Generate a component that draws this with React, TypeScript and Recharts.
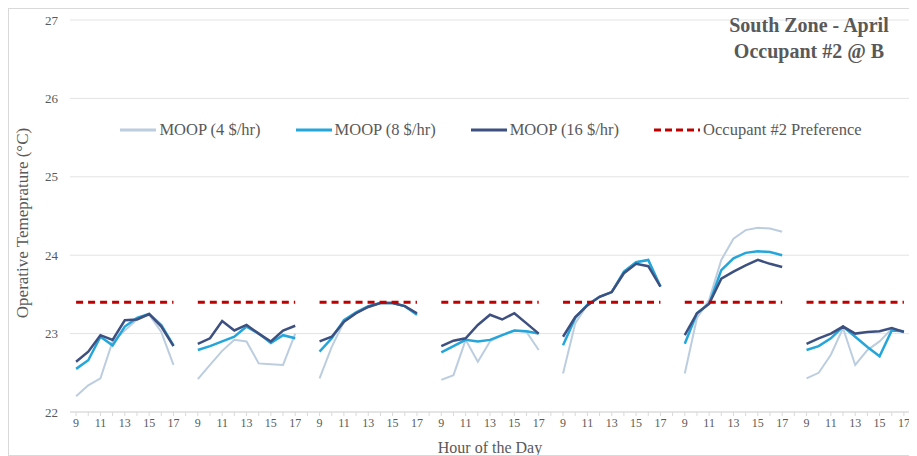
import { LineChart, Line, XAxis, YAxis, CartesianGrid } from 'recharts';

// hours shown for each simulated day
const HOURS = [9, 10, 11, 12, 13, 14, 15, 16, 17];

// operative temperature per day (°C), one inner array per day
const moop4 = [
  [22.2, 22.34, 22.43, 22.9, 23.04, 23.18, 23.24, 23.02, 22.6],
  [22.42, 22.6, 22.78, 22.92, 22.9, 22.62, 22.61, 22.6, 23.0],
  [22.43, 22.83, 23.15, 23.26, 23.34, 23.39, 23.39, 23.35, 23.24],
  [22.41, 22.47, 22.92, 22.64, 22.9, 22.98, 23.04, 23.02, 22.79],
  [22.49, 23.13, 23.37, 23.47, 23.53, 23.79, 23.91, 23.94, 23.6],
  [22.49, 23.2, 23.43, 23.94, 24.21, 24.32, 24.35, 24.34, 24.3],
  [22.43, 22.5, 22.73, 23.07, 22.6, 22.79, 22.9, 23.06, 23.03],
];

const moop8 = [
  [22.55, 22.66, 22.96, 22.85, 23.09, 23.2, 23.25, 23.11, 22.85],
  [22.79, 22.84, 22.9, 22.96, 23.09, 23.0, 22.88, 22.98, 22.94],
  [22.77, 22.94, 23.17, 23.27, 23.35, 23.39, 23.39, 23.35, 23.24],
  [22.76, 22.84, 22.92, 22.9, 22.92, 22.98, 23.04, 23.03, 23.0],
  [22.85, 23.2, 23.37, 23.47, 23.53, 23.79, 23.91, 23.94, 23.6],
  [22.87, 23.26, 23.38, 23.81, 23.96, 24.03, 24.05, 24.04, 24.0],
  [22.79, 22.84, 22.94, 23.09, 22.96, 22.83, 22.71, 23.04, 23.03],
];

const moop16 = [
  [22.64, 22.77, 22.98, 22.92, 23.17, 23.18, 23.25, 23.09, 22.84],
  [22.87, 22.94, 23.16, 23.04, 23.11, 23.0, 22.9, 23.04, 23.1],
  [22.9, 22.96, 23.15, 23.26, 23.34, 23.39, 23.39, 23.35, 23.26],
  [22.84, 22.91, 22.94, 23.11, 23.24, 23.18, 23.26, 23.13, 23.0],
  [22.96, 23.21, 23.36, 23.47, 23.53, 23.77, 23.89, 23.86, 23.6],
  [22.98, 23.26, 23.38, 23.7, 23.79, 23.87, 23.94, 23.89, 23.85],
  [22.87, 22.94, 23.0, 23.09, 23.0, 23.02, 23.03, 23.07, 23.02],
];

const PREFERENCE = 23.4;
const Y_TICKS = [22, 23, 24, 25, 26, 27];

const C4 = '#bccde0';
const C8 = '#25a6da';
const C16 = '#3d5080';
const CPREF = '#c00000';
const GREY = '#595959';
const FONT = '"Liberation Serif", "Times New Roman", serif';

// one row per hour, with an empty slot between days so the lines break
const rows: Record<string, number | undefined>[] = [];
moop4.forEach((day, d) => {
  day.forEach((_, k) => {
    rows.push({
      x: d * 10 + k,
      m4: moop4[d][k],
      m8: moop8[d][k],
      m16: moop16[d][k],
      pref: PREFERENCE,
    });
  });
  if (d < moop4.length - 1) rows.push({ x: d * 10 + 9 });
});

const lastX = rows[rows.length - 1].x as number;
const xTicks = rows.map((r) => r.x as number);

function hourLabel(v: number) {
  const k = v % 10;
  if (k === 9 || k % 2 === 1) return '';
  return String(HOURS[k]);
}

const legendItems = [
  { label: 'MOOP (4 $/hr)', color: C4, dashed: false },
  { label: 'MOOP (8 $/hr)', color: C8, dashed: false },
  { label: 'MOOP (16 $/hr)', color: C16, dashed: false },
  { label: 'Occupant #2 Preference', color: CPREF, dashed: true },
];

export default function App() {
  return (
    <div
      style={{
        position: 'relative',
        width: 909,
        height: 446,
        border: '1px solid #d9d9d9',
        background: '#fff',
        fontFamily: FONT,
      }}
    >
      <LineChart
        width={909}
        height={446}
        data={rows}
        margin={{ top: 11, right: 8, bottom: 0, left: 0 }}
      >
        <CartesianGrid vertical={false} stroke="#e3e3e3" />
        <XAxis
          type="number"
          dataKey="x"
          domain={[-0.5, lastX + 0.5]}
          ticks={xTicks}
          interval={0}
          tickFormatter={hourLabel}
          height={43}
          tick={{ fill: GREY, fontSize: 12, fontFamily: FONT }}
          axisLine={{ stroke: '#d9d9d9' }}
          tickLine={{ stroke: '#d9d9d9' }}
          tickSize={4}
          label={{
            value: 'Hour of the Day',
            position: 'insideBottom',
            offset: 2,
            fill: GREY,
            fontSize: 16,
            fontFamily: FONT,
          }}
        />
        <YAxis
          domain={[22, 27]}
          ticks={Y_TICKS}
          width={61}
          axisLine={false}
          tickLine={false}
          tickSize={0}
          tickMargin={12}
          tick={{ fill: GREY, fontSize: 13, fontFamily: FONT }}
          label={{
            value: 'Operative Temeprature (°C)',
            angle: -90,
            position: 'insideLeft',
            offset: 13,
            dy: 7,
            textAnchor: 'middle',
            fill: GREY,
            fontSize: 17,
            fontFamily: FONT,
          }}
        />
        <Line dataKey="m4" stroke={C4} strokeWidth={2} dot={false} isAnimationActive={false} />
        <Line dataKey="m8" stroke={C8} strokeWidth={2.5} dot={false} isAnimationActive={false} />
        <Line dataKey="m16" stroke={C16} strokeWidth={2.5} dot={false} isAnimationActive={false} />
        <Line
          dataKey="pref"
          stroke={CPREF}
          strokeWidth={3}
          strokeDasharray="7 5"
          dot={false}
          isAnimationActive={false}
        />
      </LineChart>

      <div
        style={{
          position: 'absolute',
          left: 62,
          width: 840,
          top: 111,
          display: 'flex',
          justifyContent: 'center',
          gap: 35,
          fontSize: 16.5,
          color: GREY,
        }}
      >
        {legendItems.map((it) => (
          <div key={it.label} style={{ display: 'flex', alignItems: 'center', gap: 3 }}>
            <svg width={it.dashed ? 46 : 36} height={8}>
              <line
                x1={0}
                y1={4}
                x2={it.dashed ? 46 : 36}
                y2={4}
                stroke={it.color}
                strokeWidth={3}
                strokeDasharray={it.dashed ? '7 4' : undefined}
              />
            </svg>
            <span>{it.label}</span>
          </div>
        ))}
      </div>

      <div
        style={{
          position: 'absolute',
          left: 690,
          width: 220,
          top: 3,
          textAlign: 'center',
          fontWeight: 'bold',
          fontSize: 20,
          lineHeight: '26px',
          color: GREY,
        }}
      >
        South Zone - April
        <br />
        Occupant #2 @ B
      </div>
    </div>
  );
}
